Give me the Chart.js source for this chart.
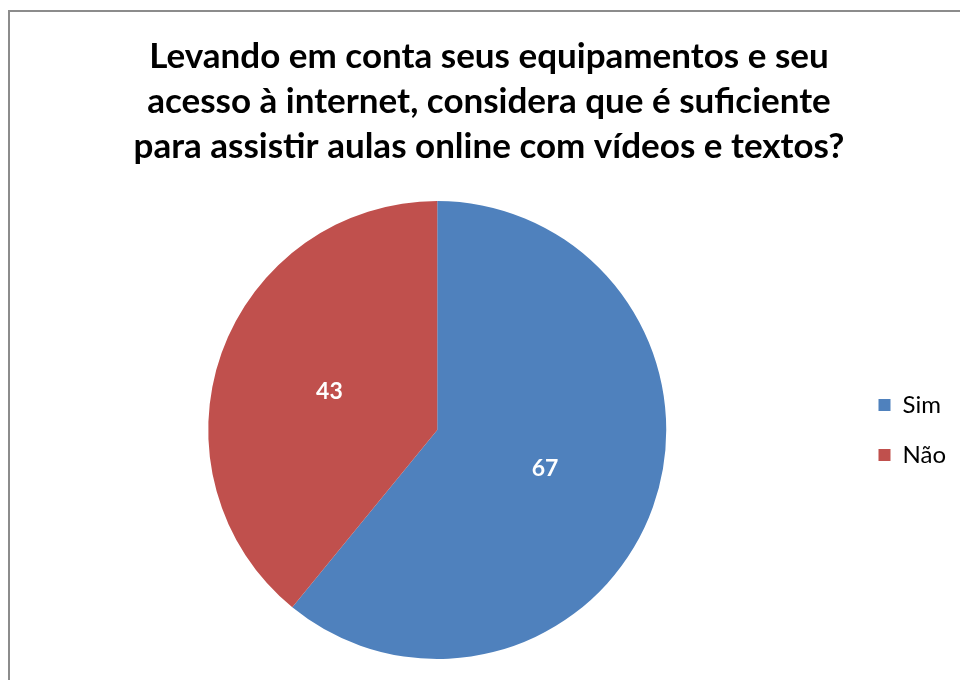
<!DOCTYPE html>
<html>
<head>
<meta charset="utf-8">
<script src="https://cdn.jsdelivr.net/npm/chart.js@4"></script>
<style>
  html, body { margin: 0; padding: 0; background: #fff; overflow: hidden; }
  #wrap { position: relative; width: 960px; height: 680px; }
  #frame { position: absolute; left: 8px; top: 10px; width: 1000px; height: 1000px; border: 2px solid #8c8c8c; }
  #chart { position: absolute; left: 0; top: 0; }
</style>
</head>
<body>
<div id="wrap">
  <div id="frame"></div>
  <canvas id="chart" width="960" height="680"></canvas>
</div>
<script>
  const titleLines = [
    'Levando em conta seus equipamentos e seu',
    'acesso à internet, considera que é suficiente',
    'para assistir aulas online com vídeos e textos?'
  ];
  const categories = ['Sim', 'Não'];
  const values = [67, 43];
  const colors = ['#4F81BD', '#C0504D'];

  // value labels drawn at the middle of each slice
  const sliceLabels = {
    id: 'sliceLabels',
    afterDatasetsDraw(chart) {
      const ctx = chart.ctx;
      const meta = chart.getDatasetMeta(0);
      ctx.save();
      ctx.fillStyle = '#fff';
      ctx.font = 'bold 23px Lato';
      ctx.textAlign = 'center';
      ctx.textBaseline = 'middle';
      meta.data.forEach((arc, i) => {
        const p = arc.tooltipPosition();
        ctx.fillText(String(values[i]), p.x, p.y);
      });
      ctx.restore();
    }
  };

  new Chart(document.getElementById('chart'), {
    type: 'pie',
    data: {
      labels: categories,
      datasets: [{
        data: values,
        backgroundColor: colors,
        borderWidth: 0
      }]
    },
    options: {
      responsive: false,
      animation: false,
      layout: { padding: { left: 22, right: 4, top: 0, bottom: 21 } },
      plugins: {
        tooltip: { enabled: false },
        title: {
          display: true,
          text: titleLines,
          color: '#000',
          font: { family: 'Lato', size: 35, weight: 'bold', lineHeight: 45 / 35 },
          padding: { top: 34, bottom: 32 }
        },
        legend: {
          position: 'right',
          fullSize: false,
          labels: {
            boxWidth: 12,
            boxHeight: 12,
            padding: 26,
            color: '#000',
            font: { family: 'Lato', size: 24 }
          }
        }
      }
    },
    plugins: [sliceLabels]
  });
</script>
</body>
</html>
